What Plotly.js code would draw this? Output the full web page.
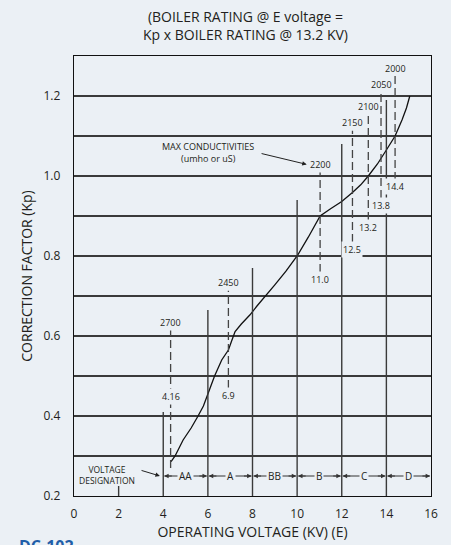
<!DOCTYPE html>
<html>
<head>
<meta charset="utf-8">
<script src="https://cdn.plot.ly/plotly-3.0.1.min.js"></script>
<style>
  html, body { margin: 0; padding: 0; background: #ebf0f5; }
  #chart { width: 451px; height: 545px; }
</style>
</head>
<body>
<div id="chart"></div>
<script>
// ---- Data ----
// Correction-factor curve (operating voltage kV -> Kp)
const curveX = [4.35, 4.53, 4.89, 5.25, 5.56, 5.8, 6.0, 6.3, 6.62, 6.78, 6.92, 7.08, 7.22, 7.5, 7.89, 8.2, 8.56, 9.0, 9.5, 10.0, 10.5, 11.03, 11.5, 12.0, 12.48, 12.85, 13.19, 13.6, 14.0, 14.39, 14.7, 14.9, 15.05];
const curveKp = [0.286, 0.30, 0.34, 0.37, 0.40, 0.425, 0.455, 0.50, 0.54, 0.552, 0.565, 0.59, 0.611, 0.63, 0.653, 0.675, 0.70, 0.728, 0.762, 0.80, 0.847, 0.90, 0.918, 0.936, 0.959, 0.978, 1.0, 1.03, 1.065, 1.10, 1.14, 1.17, 1.20];

// Standard voltages with their max conductivities (dashed markers)
const voltLabels = ['4.16', '6.9', '11.0', '12.5', '13.2', '13.8', '14.4'];
const voltX = [4.33, 6.92, 11.03, 12.48, 13.19, 13.76, 14.39];
const voltLabelKp = [0.448, 0.4525, 0.742, 0.8175, 0.871, 0.926, 0.973];
const conductLabels = ['2700', '2450', '2200', '2150', '2100', '2050', '2000'];
const conductLabelKp = [0.634, 0.733, 1.029, 1.133, 1.173, 1.23, 1.27];
const dashBottomKp = [0.27, 0.47, 0.76, 0.835, 0.89, 0.945, 0.99];

// Partial solid vertical lines
const divX = [2, 4, 6, 8, 10, 12, 14];
const divTopKp = [0.225, 0.41, 0.665, 0.77, 0.94, 1.08, 1.19];

// Voltage designation zones
const zoneNames = ['AA', 'A', 'BB', 'B', 'C', 'D'];
const zoneStart = [4, 6, 8, 10, 12, 14];
const zoneEnd = [6, 8, 10, 12, 14, 16];
const zoneKp = 0.25;

// Axis ticks
const yTickVals = [0.2, 0.3, 0.4, 0.5, 0.6, 0.7, 0.8, 0.9, 1.0, 1.1, 1.2, 1.3];
const yTickText = ['0.2', '', '0.4', '', '0.6', '', '0.8', '', '1.0', '', '1.2', ''];
const xTickVals = [0, 2, 4, 6, 8, 10, 12, 14, 16];

// ---- Styles ----
const BG = '#ebf0f5';
const INK = '#231f20';
const GRID = '#3a3a3a';
const FONT = 'Open Sans, Noto Sans, sans-serif';

const shapes = [];
divX.forEach((x, i) => {
  shapes.push({type: 'line', xref: 'x', yref: 'y', x0: x, x1: x, y0: 0.2, y1: divTopKp[i],
    line: {color: GRID, width: 1.4}});
});
voltX.forEach((x, i) => {
  shapes.push({type: 'line', xref: 'x', yref: 'y', x0: x, x1: x,
    y0: dashBottomKp[i], y1: conductLabelKp[i] - 0.02,
    line: {color: '#444', width: 1.3, dash: '8px,4px'}});
});
// zone dimension lines
zoneNames.forEach((z, i) => {
  shapes.push({type: 'line', xref: 'x', yref: 'y', x0: zoneStart[i] + 0.05, x1: zoneEnd[i] - 0.05,
    y0: zoneKp, y1: zoneKp, line: {color: '#333', width: 1}});
});

const annotations = [];
// Title (two lines)
annotations.push({x: 0.479, y: 1.117, xref: 'paper', yref: 'paper', xanchor: 'center', yanchor: 'top',
  text: '(BOILER RATING @ E voltage =<br>Kp x BOILER RATING @ 13.2 KV)', showarrow: false,
  font: {family: FONT, size: 14, color: INK}});
// voltage labels (broken dashed line)
voltX.forEach((x, i) => {
  annotations.push({x: x, y: voltLabelKp[i], xref: 'x', yref: 'y', text: voltLabels[i],
    showarrow: false, bgcolor: BG, borderpad: 1, font: {family: FONT, size: 9, color: INK}});
  annotations.push({x: x, y: conductLabelKp[i], xref: 'x', yref: 'y', text: conductLabels[i],
    showarrow: false, font: {family: FONT, size: 9, color: INK}});
});
// zone labels and arrowheads
zoneNames.forEach((z, i) => {
  const mid = (zoneStart[i] + zoneEnd[i]) / 2;
  annotations.push({x: mid, y: zoneKp, xref: 'x', yref: 'y', text: z, showarrow: false,
    bgcolor: BG, borderpad: 1, font: {family: FONT, size: 10, color: INK}});
  annotations.push({x: zoneStart[i] + 0.04, y: zoneKp, xref: 'x', yref: 'y', ax: zoneStart[i] + 0.45, ay: zoneKp,
    axref: 'x', ayref: 'y', text: '', showarrow: true, arrowhead: 2, arrowsize: 0.9, arrowwidth: 1, arrowcolor: '#333'});
  annotations.push({x: zoneEnd[i] - 0.04, y: zoneKp, xref: 'x', yref: 'y', ax: zoneEnd[i] - 0.45, ay: zoneKp,
    axref: 'x', ayref: 'y', text: '', showarrow: true, arrowhead: 2, arrowsize: 0.9, arrowwidth: 1, arrowcolor: '#333'});
});
// MAX CONDUCTIVITIES callout
annotations.push({x: 6.0, y: 1.06, xref: 'x', yref: 'y', text: 'MAX CONDUCTIVITIES<br>(umho or uS)',
  showarrow: false, font: {family: FONT, size: 9, color: INK}});
annotations.push({x: 10.43, y: 1.029, xref: 'x', yref: 'y', ax: 8.34, ay: 1.057, axref: 'x', ayref: 'y',
  text: '', showarrow: true, arrowhead: 2, arrowsize: 0.9, arrowwidth: 1, arrowcolor: '#222'});
// VOLTAGE DESIGNATION callout
annotations.push({x: 1.46, y: 0.252, xref: 'x', yref: 'y', text: 'VOLTAGE<br>DESIGNATION',
  showarrow: false, font: {family: FONT, size: 8.5, color: INK}});
annotations.push({x: 3.85, y: 0.25, xref: 'x', yref: 'y', ax: 2.96, ay: 0.265, axref: 'x', ayref: 'y',
  text: '', showarrow: true, arrowhead: 2, arrowsize: 0.9, arrowwidth: 1, arrowcolor: '#222'});
// Figure code, bottom-left (clipped by page edge, as in the reference)
annotations.push({x: -0.16, y: -0.084, xref: 'paper', yref: 'paper', xanchor: 'left', yanchor: 'top',
  text: '<b>DC-102</b>', showarrow: false, font: {family: FONT, size: 16, color: '#1f5ea8'}});

const traces = [{
  x: curveX, y: curveKp, type: 'scatter', mode: 'lines',
  line: {color: '#111', width: 1.3, shape: 'linear'}, hoverinfo: 'skip'
}];

const layout = {
  width: 451, height: 545,
  margin: {l: 74, r: 20, t: 56, b: 49},
  paper_bgcolor: BG, plot_bgcolor: BG,
  showlegend: false,
  font: {family: FONT, color: INK},
  xaxis: {
    range: [0, 16], tickvals: xTickVals, showgrid: false, zeroline: false,
    showline: true, mirror: true, linecolor: '#111', linewidth: 1.3,
    ticks: '', ticklabelstandoff: 6,
    tickfont: {family: FONT, size: 12, color: INK},
    title: {text: 'OPERATING VOLTAGE (KV) (E)', font: {family: FONT, size: 14, color: INK}, standoff: 5}
  },
  yaxis: {
    range: [0.2, 1.3], tickvals: yTickVals, ticktext: yTickText,
    showgrid: true, gridcolor: GRID, gridwidth: 1.2, zeroline: false,
    showline: true, mirror: true, linecolor: '#111', linewidth: 1.3,
    ticks: '', ticklabelstandoff: 10,
    tickfont: {family: FONT, size: 12, color: INK},
    title: {text: 'CORRECTION FACTOR (Kp)', font: {family: FONT, size: 14, color: INK}, standoff: 7}
  },
  shapes: shapes,
  annotations: annotations
};

Plotly.newPlot('chart', traces, layout, {displayModeBar: false, staticPlot: true});
</script>
</body>
</html>
